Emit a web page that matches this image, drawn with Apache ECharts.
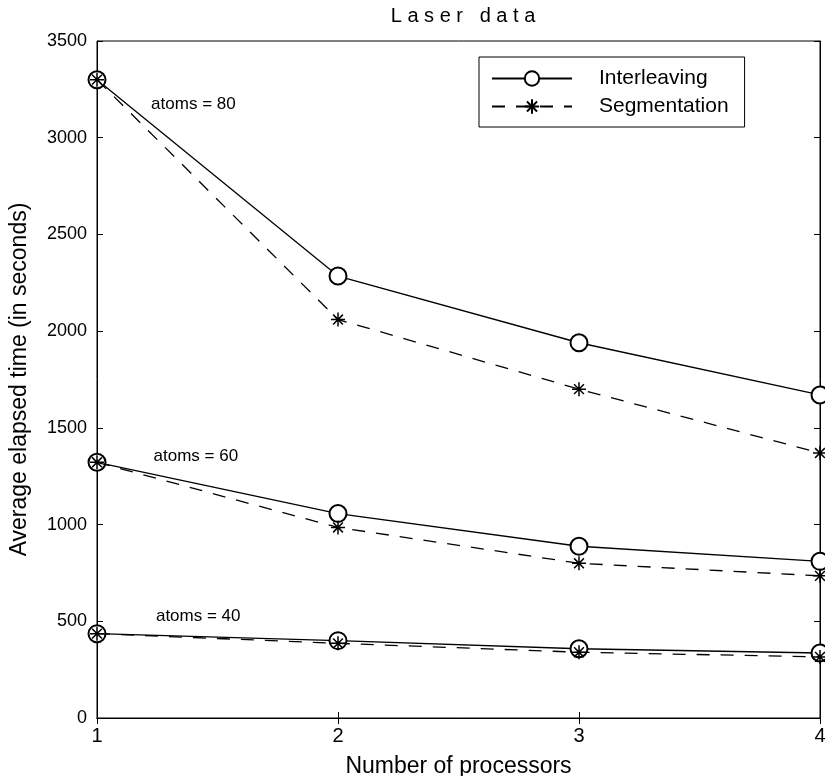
<!DOCTYPE html>
<html>
<head>
<meta charset="utf-8">
<script src="https://cdn.jsdelivr.net/npm/echarts@6/dist/echarts.min.js"></script>
<style>
  html, body { margin: 0; padding: 0; background: #fff; }
  #chart { width: 825px; height: 776px; }
</style>
</head>
<body>
<div id="chart"></div>
<script>
// processors on the x axis
const processors = [1, 2, 3, 4];

// average elapsed time (seconds)
const inter80 = [3300, 2285, 1940, 1670];
const seg80   = [3300, 2060, 1700, 1370];
const inter60 = [1322, 1057, 888, 810];
const seg60   = [1322, 985, 800, 735];
const inter40 = [436, 400, 358, 336];
const seg40   = [436, 386, 340, 316];

const yTicks = [0, 500, 1000, 1500, 2000, 2500, 3000, 3500];

// annotation labels: [x, y, text]
const notes = [
    [1.4, 3175, 'atoms = 80'],
    [1.41, 1355, 'atoms = 60'],
    [1.42, 527, 'atoms = 40']
];

const font = 'Liberation Sans, Arial, sans-serif';
const starPath = 'path://M10,0L10,20M0,10L20,10M3,3L17,17M3,17L17,3';

const pairs = (ys) => processors.map((x, i) => [x, ys[i]]);

const interSeries = (ys, note) => ({
    name: 'Interleaving',
    type: 'line',
    data: pairs(ys),
    symbol: 'emptyCircle',
    symbolSize: 17,
    showAllSymbol: true,
    lineStyle: { color: '#000', width: 1.3 },
    itemStyle: { color: '#000', borderColor: '#000', borderWidth: 1.2 },
    z: 3,
    markPoint: note ? {
        symbol: 'circle',
        symbolSize: 0,
        silent: true,
        label: {
            show: true,
            formatter: note[2],
            color: '#000',
            fontFamily: font,
            fontSize: 17
        },
        data: [{ coord: [note[0], note[1]] }]
    } : undefined
});

const segSeries = (ys) => ({
    name: 'Segmentation',
    type: 'line',
    data: pairs(ys),
    symbol: starPath,
    symbolSize: 14,
    lineStyle: { color: '#000', width: 1.3, type: [13, 11] },
    itemStyle: { color: 'none', borderColor: '#000', borderWidth: 1.5 },
    z: 4
});

const chart = echarts.init(document.getElementById('chart'));

chart.setOption({
    backgroundColor: '#fff',
    animation: false,
    title: {
        text: 'L a s e r   d a t a',
        left: 458,
        textAlign: 'center',
        top: 1,
        textStyle: { color: '#000', fontFamily: font, fontSize: 20, fontWeight: 'normal' }
    },
    grid: {
        left: 97,
        right: 5,
        top: 41,
        bottom: 58,
        outerBoundsMode: 'none',
        show: true,
        borderColor: '#000',
        borderWidth: 1
    },
    legend: {
        data: ['Interleaving', 'Segmentation'],
        orient: 'vertical',
        left: 479,
        top: 57,
        itemWidth: 80,
        itemHeight: 18,
        itemGap: 7,
        padding: [11, 16, 10, 12],
        borderColor: '#000',
        borderWidth: 1,
        backgroundColor: '#fff',
        textStyle: { color: '#000', fontFamily: font, fontSize: 21, padding: [0, 0, 0, 22] }
    },
    xAxis: [
        {
            type: 'value',
            min: 1,
            max: 4,
            interval: 1,
            name: 'Number of processors',
            nameLocation: 'middle',
            nameGap: 37,
            nameTextStyle: { color: '#000', fontFamily: font, fontSize: 23 },
            axisLine: { lineStyle: { color: '#000' } },
            axisTick: { inside: true, length: 6, lineStyle: { color: '#000' } },
            axisLabel: { color: '#000', fontFamily: font, fontSize: 20, margin: 8 },
            splitLine: { show: false }
        },
        {
            type: 'value',
            position: 'top',
            min: 1,
            max: 4,
            interval: 1,
            axisLine: { lineStyle: { color: '#000' } },
            axisTick: { inside: true, length: 6, lineStyle: { color: '#000' } },
            axisLabel: { show: false },
            splitLine: { show: false }
        }
    ],
    yAxis: [
        {
            type: 'value',
            min: 0,
            max: 3500,
            interval: 500,
            name: 'Average elapsed time (in seconds)',
            nameLocation: 'middle',
            nameGap: 66,
            nameTextStyle: { color: '#000', fontFamily: font, fontSize: 23 },
            axisLine: { lineStyle: { color: '#000' } },
            axisTick: { inside: true, length: 6, lineStyle: { color: '#000' } },
            axisLabel: {
                color: '#000', fontFamily: font, fontSize: 18, margin: 10,
                formatter: (v) => yTicks.includes(v) ? String(v) : ''
            },
            splitLine: { show: false }
        },
        {
            type: 'value',
            position: 'right',
            min: 0,
            max: 3500,
            interval: 500,
            axisLine: { lineStyle: { color: '#000' } },
            axisTick: { inside: true, length: 6, lineStyle: { color: '#000' } },
            axisLabel: { show: false },
            splitLine: { show: false }
        }
    ],
    series: [
        interSeries(inter80, notes[0]),
        segSeries(seg80),
        interSeries(inter60, notes[1]),
        segSeries(seg60),
        interSeries(inter40, notes[2]),
        segSeries(seg40)
    ]
});
</script>
</body>
</html>
